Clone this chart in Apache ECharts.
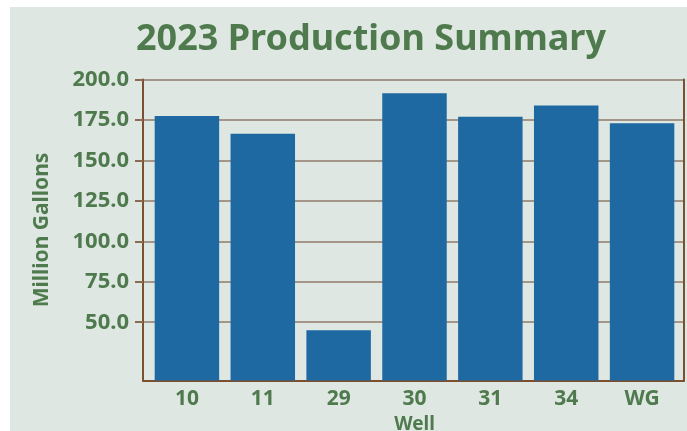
<!DOCTYPE html>
<html>
<head>
<meta charset="utf-8">
<script src="https://cdn.jsdelivr.net/npm/echarts@6/dist/echarts.min.js"></script>
<style>
  html, body { margin: 0; padding: 0; background: #ffffff; }
  #bg { position: absolute; left: 10px; top: 7px; width: 677px; height: 424px; background: #dee7e1; }
  #chart { position: absolute; left: 0; top: 0; width: 687px; height: 431px; }
</style>
</head>
<body>
<div id="bg"></div>
<div id="chart"></div>
<script>
const titleText = '2023 Production Summary';
const categories = ['10', '11', '29', '30', '31', '34', 'WG'];
const production = [177.5, 166.5, 45, 191.5, 177, 184, 173];
const yTicks = [50, 75, 100, 125, 150, 175, 200];
const yName = 'Million Gallons';
const xName = 'Well';
const yMin = 14;
const yMax = 200;

const green = '#4f7a4e';
const brown = '#7a5030';
const gridGray = '#a39689';
const font = 'Noto Sans';

const chart = echarts.init(document.getElementById('chart'), null, { renderer: 'canvas' });
chart.setOption({
  backgroundColor: 'transparent',
  animation: false,
  title: {
    text: titleText,
    left: 366,
    top: 17,
    textAlign: 'center',
    textStyle: { fontFamily: font, fontWeight: 'bold', fontSize: 36, color: green }
  },
  grid: [
    { left: 149, right: 7, top: 79.5, bottom: 50.5, containLabel: false, outerBoundsMode: 'none' },
    { left: 143, right: 3, top: 79.5, bottom: 50.5, containLabel: false, outerBoundsMode: 'none' }
  ],
  xAxis: [{
    type: 'category',
    gridIndex: 0,
    data: categories,
    name: xName,
    nameLocation: 'middle',
    nameGap: 35,
    nameTextStyle: { fontFamily: font, fontWeight: 'bold', fontSize: 19, color: green },
    axisLine: { show: false },
    axisTick: { show: false },
    axisLabel: { margin: 8, fontFamily: font, fontWeight: 'bold', fontSize: 21, color: green }
  }, {
    type: 'value',
    gridIndex: 1,
    min: 0, max: 1,
    axisLine: { show: true, onZero: false, lineStyle: { color: brown, width: 2 } },
    axisTick: { show: false },
    axisLabel: { show: false },
    splitLine: { show: false }
  }],
  yAxis: [{
    type: 'value',
    gridIndex: 0,
    min: yMin,
    max: yMax,
    axisLine: { show: false },
    axisTick: { show: false },
    axisLabel: { show: false },
    splitLine: { show: false }
  }, {
    type: 'value',
    gridIndex: 1,
    min: yMin,
    max: yMax,
    name: yName,
    nameLocation: 'middle',
    nameRotate: 90,
    nameGap: 90,
    nameTextStyle: { fontFamily: font, fontWeight: 'bold', fontSize: 21, color: green },
    axisLine: { show: true, onZero: false, lineStyle: { color: brown, width: 2 } },
    axisTick: { show: true, length: 8, customValues: yTicks, lineStyle: { color: '#8a6a50', width: 2 } },
    axisLabel: {
      customValues: yTicks, margin: 14,
      fontFamily: font, fontWeight: 'bold', fontSize: 22, color: green,
      formatter: v => v.toFixed(1)
    },
    splitLine: { show: true, lineStyle: { color: gridGray, width: 2 } }
  }, {
    type: 'value',
    gridIndex: 1,
    position: 'right',
    min: yMin,
    max: yMax,
    axisLine: { show: true, onZero: false, lineStyle: { color: brown, width: 2 } },
    axisTick: { show: false },
    axisLabel: { show: false },
    splitLine: { show: false }
  }],
  series: [{
    type: 'bar',
    xAxisIndex: 0,
    yAxisIndex: 0,
    data: production,
    barCategoryGap: '15%',
    itemStyle: { color: '#1f69a3' }
  }]
});
</script>
</body>
</html>
